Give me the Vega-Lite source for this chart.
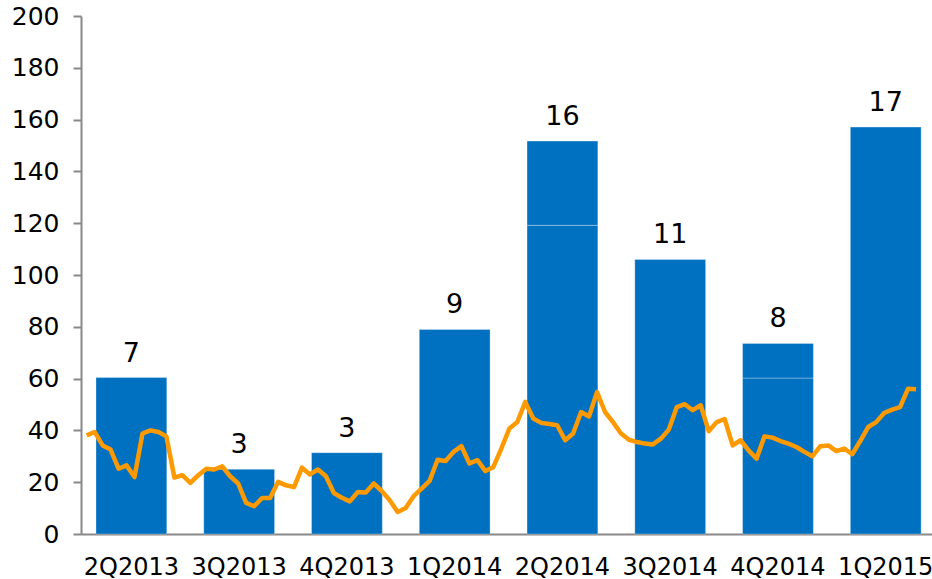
{
  "$schema": "https://vega.github.io/schema/vega-lite/v6.json",
  "width": 851,
  "height": 518,
  "autosize": "none",
  "padding": {"left": 81, "top": 16, "right": 0, "bottom": 45},
  "config": {"view": {"stroke": null}, "font": "DejaVu Sans"},
  "datasets": {
    "bars": [
      {"quarter": "2Q2013", "seg": 1, "value": 60.4},
      {"quarter": "3Q2013", "seg": 1, "value": 25.0},
      {"quarter": "4Q2013", "seg": 1, "value": 31.4},
      {"quarter": "1Q2014", "seg": 1, "value": 79.0},
      {"quarter": "2Q2014", "seg": 1, "value": 119.2},
      {"quarter": "2Q2014", "seg": 2, "value": 32.5},
      {"quarter": "3Q2014", "seg": 1, "value": 106.0},
      {"quarter": "4Q2014", "seg": 1, "value": 60.2},
      {"quarter": "4Q2014", "seg": 2, "value": 13.4},
      {"quarter": "1Q2015", "seg": 1, "value": 157.1}
    ],
    "labels": [
      {"quarter": "2Q2013", "total": 60.4, "count": 7},
      {"quarter": "3Q2013", "total": 25.0, "count": 3},
      {"quarter": "4Q2013", "total": 31.4, "count": 3},
      {"quarter": "1Q2014", "total": 79.0, "count": 9},
      {"quarter": "2Q2014", "total": 151.7, "count": 16},
      {"quarter": "3Q2014", "total": 106.0, "count": 11},
      {"quarter": "4Q2014", "total": 73.6, "count": 8},
      {"quarter": "1Q2015", "total": 157.1, "count": 17}
    ],
    "weekly": [
      {"week": 1, "value": 38.1}, {"week": 2, "value": 39.4}, {"week": 3, "value": 34.2}, {"week": 4, "value": 32.6},
      {"week": 5, "value": 25.2}, {"week": 6, "value": 26.5}, {"week": 7, "value": 22.0}, {"week": 8, "value": 38.8},
      {"week": 9, "value": 40.0}, {"week": 10, "value": 39.4}, {"week": 11, "value": 37.7}, {"week": 12, "value": 21.8},
      {"week": 13, "value": 22.7}, {"week": 14, "value": 19.7}, {"week": 15, "value": 22.7}, {"week": 16, "value": 25.2},
      {"week": 17, "value": 24.9}, {"week": 18, "value": 26.1}, {"week": 19, "value": 22.3}, {"week": 20, "value": 19.5},
      {"week": 21, "value": 12.0}, {"week": 22, "value": 10.7}, {"week": 23, "value": 13.9}, {"week": 24, "value": 13.9},
      {"week": 25, "value": 20.1}, {"week": 26, "value": 18.8}, {"week": 27, "value": 18.1}, {"week": 28, "value": 25.6},
      {"week": 29, "value": 23.0}, {"week": 30, "value": 24.9}, {"week": 31, "value": 22.3}, {"week": 32, "value": 15.8},
      {"week": 33, "value": 14.0}, {"week": 34, "value": 12.6}, {"week": 35, "value": 16.2}, {"week": 36, "value": 16.0},
      {"week": 37, "value": 19.5}, {"week": 38, "value": 16.6}, {"week": 39, "value": 13.0}, {"week": 40, "value": 8.5},
      {"week": 41, "value": 10.0}, {"week": 42, "value": 14.6}, {"week": 43, "value": 17.5}, {"week": 44, "value": 20.5},
      {"week": 45, "value": 28.7}, {"week": 46, "value": 28.2}, {"week": 47, "value": 31.7}, {"week": 48, "value": 33.9},
      {"week": 49, "value": 27.2}, {"week": 50, "value": 28.5}, {"week": 51, "value": 24.3}, {"week": 52, "value": 25.9},
      {"week": 53, "value": 33.0}, {"week": 54, "value": 40.7}, {"week": 55, "value": 43.2}, {"week": 56, "value": 51.0},
      {"week": 57, "value": 44.6}, {"week": 58, "value": 42.9}, {"week": 59, "value": 42.5}, {"week": 60, "value": 42.0},
      {"week": 61, "value": 36.2}, {"week": 62, "value": 38.8}, {"week": 63, "value": 47.1}, {"week": 64, "value": 45.4},
      {"week": 65, "value": 54.8}, {"week": 66, "value": 47.1}, {"week": 67, "value": 43.2}, {"week": 68, "value": 38.8},
      {"week": 69, "value": 36.4}, {"week": 70, "value": 35.5}, {"week": 71, "value": 34.9}, {"week": 72, "value": 34.6},
      {"week": 73, "value": 36.8}, {"week": 74, "value": 40.3}, {"week": 75, "value": 49.0}, {"week": 76, "value": 50.1},
      {"week": 77, "value": 47.8}, {"week": 78, "value": 49.7}, {"week": 79, "value": 39.7}, {"week": 80, "value": 43.2},
      {"week": 81, "value": 44.4}, {"week": 82, "value": 34.2}, {"week": 83, "value": 36.2}, {"week": 84, "value": 32.3},
      {"week": 85, "value": 29.1}, {"week": 86, "value": 37.7}, {"week": 87, "value": 37.2}, {"week": 88, "value": 35.9},
      {"week": 89, "value": 34.9}, {"week": 90, "value": 33.6}, {"week": 91, "value": 31.7}, {"week": 92, "value": 30.0},
      {"week": 93, "value": 33.9}, {"week": 94, "value": 34.2}, {"week": 95, "value": 32.0}, {"week": 96, "value": 33.0},
      {"week": 97, "value": 30.8}, {"week": 98, "value": 35.9}, {"week": 99, "value": 41.3}, {"week": 100, "value": 43.2},
      {"week": 101, "value": 46.7}, {"week": 102, "value": 48.0}, {"week": 103, "value": 49.0}, {"week": 104, "value": 56.1},
      {"week": 105, "value": 55.9}
    ]
  },
  "layer": [
    {
      "layer": [
        {
          "data": {"name": "bars"},
          "mark": {"type": "bar", "color": "#0070C0", "stroke": "#ffffff", "strokeWidth": 1, "strokeOpacity": 0.3},
          "encoding": {
            "x": {
              "field": "quarter", "type": "nominal", "sort": null,
              "scale": {"paddingInner": 0.343, "paddingOuter": 0.12, "align": 0.58},
              "axis": {"title": null, "labelAngle": 0, "ticks": false, "tickSize": 0, "labelPadding": 21,
                       "domainColor": "#888888", "domainWidth": 2, "labelFontSize": 24, "labelColor": "#000000",
                       "labelFont": "DejaVu Sans"}
            },
            "y": {
              "field": "value", "type": "quantitative", "stack": "zero",
              "scale": {"domain": [0, 200], "nice": false},
              "axis": {"title": null, "grid": false, "values": [0, 20, 40, 60, 80, 100, 120, 140, 160, 180, 200],
                       "domainColor": "#888888", "domainWidth": 2, "tickColor": "#888888", "tickWidth": 2, "tickSize": 8,
                       "labelPadding": 14, "labelFontSize": 25, "labelColor": "#000000", "labelFont": "DejaVu Sans"}
            },
            "detail": {"field": "seg", "type": "ordinal"},
            "order": {"field": "seg", "type": "ordinal"}
          }
        },
        {
          "data": {"name": "labels"},
          "mark": {"type": "text", "fontSize": 27, "font": "DejaVu Sans", "color": "#000000", "baseline": "alphabetic", "dy": -16},
          "encoding": {
            "x": {"field": "quarter", "type": "nominal", "sort": null},
            "y": {"field": "total", "type": "quantitative"},
            "text": {"field": "count", "type": "nominal"}
          }
        }
      ]
    },
    {
      "data": {"name": "weekly"},
      "mark": {"type": "line", "color": "#FF9900", "strokeWidth": 4.5, "strokeJoin": "round"},
      "encoding": {
        "x": {"field": "week", "type": "quantitative", "scale": {"domain": [0.29, 107], "nice": false, "zero": false}, "axis": null},
        "y": {"field": "value", "type": "quantitative"}
      }
    }
  ],
  "resolve": {"scale": {"x": "independent"}}
}
